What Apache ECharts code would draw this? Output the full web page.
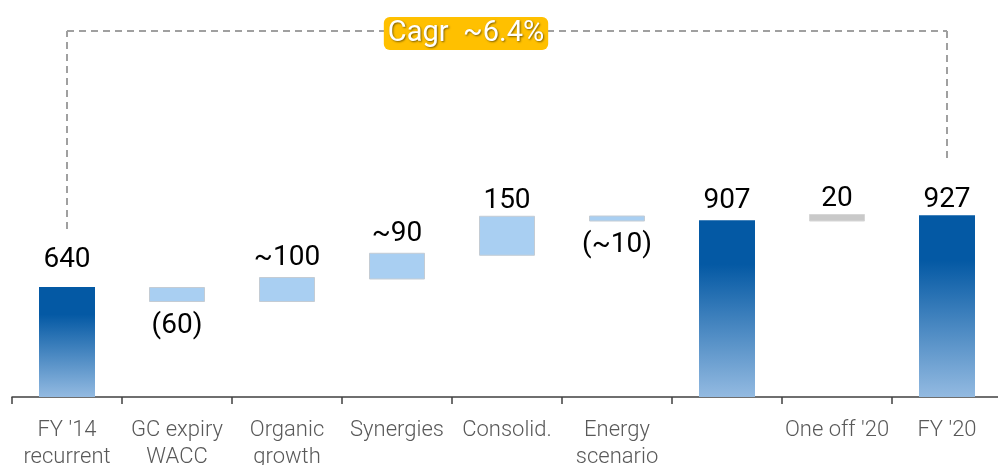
<!DOCTYPE html>
<html>
<head>
<meta charset="utf-8">
<script src="https://cdn.jsdelivr.net/npm/echarts@6/dist/echarts.min.js"></script>
<style>
  html, body { margin: 0; padding: 0; background: #fff; }
  #chart { width: 998px; height: 465px; }
</style>
</head>
<body>
<div id="chart"></div>
<script>
// waterfall FY'14 -> FY'20
var categories = ["FY '14\nrecurrent", 'GC expiry\nWACC', 'Organic\ngrowth', 'Synergies', 'Consolid.', 'Energy\nscenario', '', "One off '20", "FY '20"]
var totals = [640, '-', '-', '-', '-', '-', 907, '-', 927]
var bases = ['-', 580, 580, 670, 765, 902, '-', 902, '-']
var changes = ['-', 60, 100, 107, 160, 24, '-', 30, '-']
var valueLabels = ['640', '(60)', '~100', '~90', '150', '(~10)', '907', '20', '927']
var cagrText = 'Cagr  ~6.4%'

var chart = echarts.init(document.getElementById('chart'))

var darkBar = new echarts.graphic.LinearGradient(0, 0, 0, 1, [
  { offset: 0, color: '#0459A4' },
  { offset: 0.25, color: '#0459A4' },
  { offset: 1, color: '#93BAE1' }
])

var labelFont = {
  fontFamily: 'Roboto',
  fontSize: 28,
  color: '#000'
}

// per-bar label tweaks (offset y)
var labelOffsets = [-8, 5, 0, 0, 4, 4, 0, 4, 4]

var changeData = changes.map(function(v, i) {
  if (v === '-') return '-'
  var grey = i === 7
  var below = i === 1 || i === 5
  return {
    value: v,
    itemStyle: {
      color: grey ? '#C9C9C9' : '#A9CFF2',
      borderColor: grey ? '#D6D6D6' : '#C4CCD4',
      borderWidth: 1
    },
    label: {
      position: below ? 'bottom' : 'top',
      offset: [0, labelOffsets[i]]
    }
  }
})

var totalData = totals.map(function(v, i) {
  if (v === '-') return '-'
  return { value: v, label: { offset: [0, labelOffsets[i]] } }
})

chart.setOption({
  animation: false,
  grid: {
    left: 12,
    width: 990,
    top: 22,
    bottom: 68,
    containLabel: false,
    outerBoundsMode: 'none'
  },
  xAxis: {
    type: 'category',
    data: categories,
    axisLine: { lineStyle: { color: '#404040', width: 1.5 } },
    axisTick: { show: true, length: 7, lineStyle: { color: '#404040', width: 1.5 } },
    axisLabel: {
      interval: 0,
      margin: 20,
      fontFamily: 'Roboto',
      fontWeight: 300,
      fontSize: 22,
      lineHeight: 27,
      color: '#595959'
    }
  },
  yAxis: {
    type: 'value',
    min: 200,
    max: 1700,
    show: false,
    splitLine: { show: false }
  },
  series: [
    {
      name: 'base',
      type: 'bar',
      stack: 'w',
      barWidth: 56,
      silent: true,
      itemStyle: { color: 'transparent' },
      data: bases
    },
    {
      name: 'change',
      type: 'bar',
      stack: 'w',
      barWidth: 56,
      label: Object.assign({
        show: true,
        formatter: function(p) { return valueLabels[p.dataIndex] }
      }, labelFont),
      data: changeData
    },
    {
      name: 'total',
      type: 'bar',
      stack: 'w',
      barWidth: 56,
      itemStyle: { color: darkBar },
      label: Object.assign({
        show: true,
        position: 'top',
        formatter: function(p) { return valueLabels[p.dataIndex] }
      }, labelFont),
      data: totalData,
      markLine: {
        silent: true,
        symbol: 'none',
        lineStyle: { type: [7, 5], color: '#A0A0A0', width: 2 },
        label: { show: false },
        data: [
          [{ coord: [0, 872] }, { coord: [0, 1664] }],
          [
            {
              coord: [0, 1664],
              label: {
                show: true,
                position: 'middle',
                formatter: cagrText,
                offset: [-41, 24],
                fontFamily: 'Roboto',
                fontSize: 29,
                color: '#fff',
                backgroundColor: '#FFC000',
                borderRadius: 6,
                padding: [2, 4, 2, 4],
                textShadowColor: 'rgba(0,0,0,0.5)',
                textShadowBlur: 2,
                textShadowOffsetX: 1,
                textShadowOffsetY: 1
              }
            },
            { coord: [8, 1664] }
          ],
          [{ coord: [8, 1664] }, { coord: [8, 1152] }]
        ]
      }
    }
  ]
})
</script>
</body>
</html>
